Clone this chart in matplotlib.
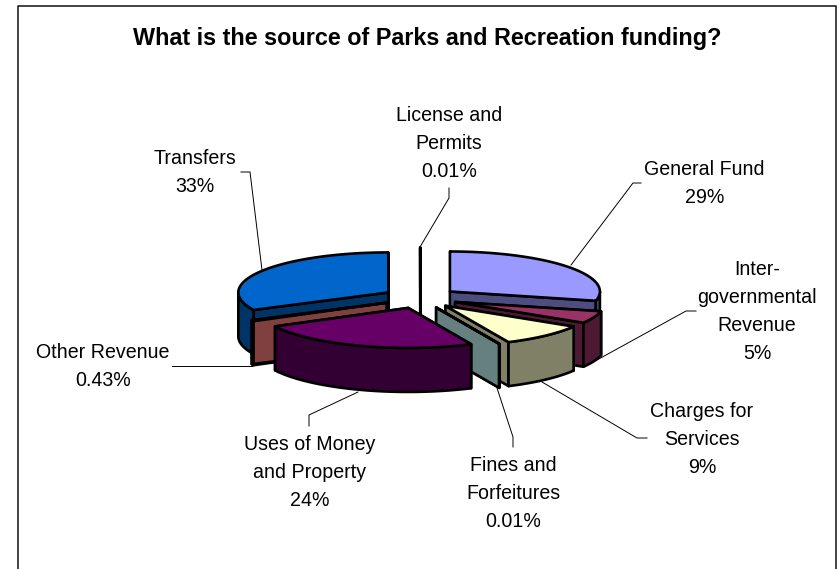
"""Exploded 3-D pie of Parks and Recreation funding sources."""

import numpy as np
import matplotlib
matplotlib.use("Agg")
import matplotlib.pyplot as plt

plt.rcParams["font.family"] = ["Liberation Sans", "DejaVu Sans"]

title = "What is the source of Parks and Recreation funding?"

# clockwise from 12 o'clock
categories = [
    "General Fund",
    "Inter-\ngovernmental\nRevenue",
    "Charges for\nServices",
    "Fines and\nForfeitures",
    "Uses of Money\nand Property",
    "Other Revenue",
    "Transfers",
    "License and\nPermits",
]
# labels are rounded, slice sizes estimated from the drawn angles
values = [29, 5, 9.49, 0.01, 24.49, 0.43, 32.5, 0.01]
value_labels = ["29%", "5%", "9%", "0.01%", "24%", "0.43%", "33%", "0.01%"]
top_colours = ["#9999FF", "#993366", "#FFFFCC", "#CCFFFF", "#660066", "#FF8080", "#0066CC", "#CCCCFF"]
side_colours = ["#4D4D80", "#4D1933", "#808066", "#668080", "#330033", "#804040", "#003366", "#666680"]

# back to front
draw_order = [7, 0, 1, 2, 3, 6, 5, 4]

# pie geometry, in pixels
CX, CY = 420.3, 298.0
RX, RY = 150.0, 40.0
EXPLODE_X, EXPLODE_Y = 37.7, 10.5
DEPTH = 44.0
EDGE_LW = 1.9

# label centre x and baseline of the first line for each category
label_pos = [
    (704.5, 175), (757, 275), (702, 417), (513, 471),
    (310, 450), (103, 358), (195, 164), (449, 121),
]
LINE_STEP = 28
leaders = [
    [(571, 265), (633, 183), (641, 183)],
    [(597, 360), (686, 311), (696, 311)],
    [(542, 382), (637, 438), (647, 438)],
    [(497, 388), (513, 437), (513, 447)],
    [(358, 392), (309, 415), (309, 426)],
    [(252, 366), (172, 366)],
    [(262, 270), (250, 172), (241, 172)],
    [(420, 247), (449, 198), (449, 188)],
]


def rim(apex, angle):
    return np.column_stack(
        (apex[0] + RX * np.sin(angle), apex[1] - RY * np.cos(angle))
    )


def draw_slice(ax, a0, a1, top, side):
    mid = (a0 + a1) / 2
    apex = (CX + EXPLODE_X * np.sin(mid), CY - EXPLODE_Y * np.cos(mid))
    style = dict(edgecolor="black", linewidth=EDGE_LW, joinstyle="round")

    # cut walls
    for angle in (a0, a1):
        edge = rim(apex, np.array([angle]))[0]
        wall = [apex, edge, (edge[0], edge[1] + DEPTH), (apex[0], apex[1] + DEPTH)]
        ax.fill(*zip(*wall), facecolor=side, **style)

    # outer wall, front half only
    lo, hi = max(a0, np.pi / 2), min(a1, 3 * np.pi / 2)
    if hi > lo:
        arc = rim(apex, np.linspace(lo, hi, 80))
        low = arc[::-1] + [0, DEPTH]
        ax.fill(*np.vstack((arc, low)).T, facecolor=side, **style)

    # top face
    arc = rim(apex, np.linspace(a0, a1, 160))
    ax.fill(*np.vstack(([apex], arc)).T, facecolor=top, **style)


fig = plt.figure(figsize=(8.39, 5.69), dpi=100)
ax = fig.add_axes([0, 0, 1, 1])
ax.set_xlim(0, 839)
ax.set_ylim(569, 0)
ax.axis("off")

# chart frame, cut off at the bottom of the picture
ax.plot([18, 18, 836, 836], [569, 5.5, 5.5, 569], color="#222222", lw=1.2)

ends = np.cumsum(values) / np.sum(values) * 2 * np.pi
starts = np.concatenate(([0], ends[:-1]))

for i in draw_order:
    draw_slice(ax, starts[i], ends[i], top_colours[i], side_colours[i])

for line in leaders:
    ax.plot(*zip(*line), color="black", lw=0.7)

for name, value, (x, y) in zip(categories, value_labels, label_pos):
    for row, text in enumerate(f"{name}\n{value}".split("\n")):
        ax.text(x, y + row * LINE_STEP, text, ha="center", va="baseline",
                fontsize=14.1, color="black")

ax.text(427.5, 38, title, ha="center", va="center", fontsize=16.8, fontweight="bold")

fig.savefig("out.png", dpi=100)
